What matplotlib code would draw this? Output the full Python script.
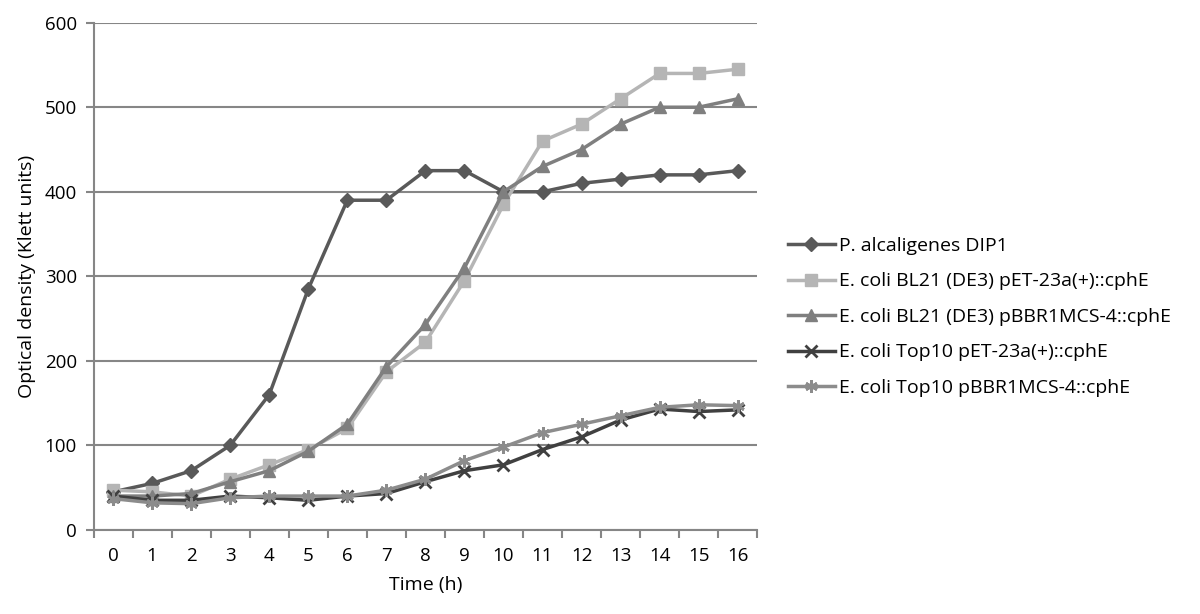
import matplotlib
matplotlib.use("Agg")
import matplotlib.pyplot as plt
import numpy as np

plt.rcParams['font.family'] = ['Open Sans', 'DejaVu Sans']

# ---- data ----
hours = list(range(17))
p_alcaligenes = [45, 55, 70, 100, 160, 285, 390, 390, 425, 425, 400, 400, 410, 415, 420, 420, 425]
bl21_pet = [47, 45, 40, 60, 77, 95, 120, 187, 222, 295, 385, 460, 480, 510, 540, 540, 545]
bl21_pbbr = [40, 40, 43, 57, 70, 93, 125, 193, 243, 310, 400, 430, 450, 480, 500, 500, 510]
top10_pet = [40, 35, 35, 40, 38, 35, 40, 43, 57, 70, 77, 95, 110, 130, 143, 140, 142]
top10_pbbr = [37, 32, 31, 38, 40, 40, 40, 47, 60, 82, 98, 115, 125, 135, 145, 148, 147]

labels = [
    "P. alcaligenes DIP1",
    "E. coli BL21 (DE3) pET-23a(+)::cphE",
    "E. coli BL21 (DE3) pBBR1MCS-4::cphE",
    "E. coli Top10 pET-23a(+)::cphE",
    "E. coli Top10 pBBR1MCS-4::cphE",
]
y_ticks = [0, 100, 200, 300, 400, 500, 600]

# ---- plot ----
fig = plt.figure(figsize=(12, 6.14), dpi=100)
ax = fig.add_axes([0.078, 0.137, 0.553, 0.826])

series = [p_alcaligenes, bl21_pet, bl21_pbbr, top10_pet, top10_pbbr]
styles = [
    dict(color='#595959', marker='D', markersize=7),
    dict(color='#b5b5b5', marker='s', markersize=8),
    dict(color='#7f7f7f', marker='^', markersize=9),
    dict(color='#404040', marker='x', markersize=8, markeredgewidth=2),
    dict(color='#8c8c8c', marker=(6, 2, 0), markersize=9, markeredgewidth=2),
]
for vals, lab, st in zip(series, labels, styles):
    ax.plot(hours, vals, linewidth=2.5, label=lab, **st)

ax.set_xlim(-0.5, 16.5)
ax.set_ylim(0, 600)
ax.set_yticks(y_ticks)
ax.set_xticks(hours)
ax.set_xticks(np.arange(-0.5, 17, 1), minor=True)
ax.tick_params(axis='x', which='major', length=0, labelsize=13.5, pad=12)
ax.tick_params(axis='x', which='minor', length=6, color='#868686', width=1.5)
ax.tick_params(axis='y', length=6, color='#868686', width=1.5, labelsize=13.5, pad=6)
ax.grid(axis='y', color='#868686', linewidth=1.5)
ax.set_axisbelow(True)
for s in ['top', 'right']:
    ax.spines[s].set_visible(False)
for s in ['left', 'bottom']:
    ax.spines[s].set_color('#868686')
    ax.spines[s].set_linewidth(1.5)

ax.set_xlabel("Time (h)", fontsize=14, labelpad=8)
ax.set_ylabel("Optical density (Klett units)", fontsize=14, labelpad=6)

ax.legend(loc='center left', bbox_to_anchor=(1.02, 0.42), frameon=False,
          fontsize=14, labelspacing=0.9, handlelength=2.4, handletextpad=0.2)

fig.savefig("out.png", dpi=100)
